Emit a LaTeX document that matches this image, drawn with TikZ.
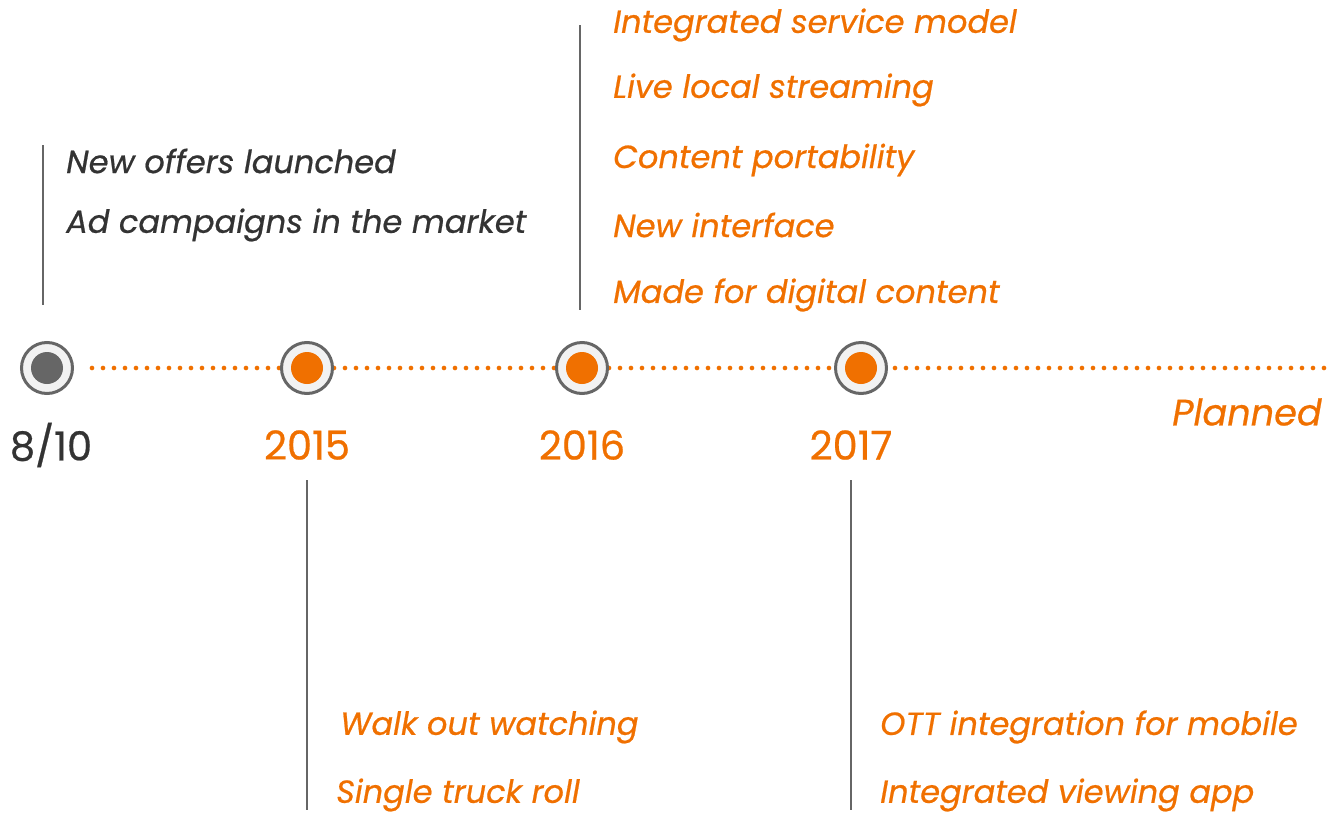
\documentclass[tikz,border=0pt]{standalone}
\usepackage{fontspec}
\setmainfont{Poppins}[FakeBold=0.6]
\usetikzlibrary{positioning}

\definecolor{attorange}{HTML}{F07000}
\definecolor{ringgray}{HTML}{666666}
\definecolor{ringfill}{HTML}{F2F2F2}
\definecolor{textgray}{HTML}{333333}

\begin{document}
\begin{tikzpicture}[
    x=0.75pt, y=-0.75pt,
    ring/.style={circle,fill=ringfill,draw=ringgray,line width=2.25pt,minimum size=51*0.75pt,inner sep=0pt},
    dot done/.style={circle,fill=ringgray,minimum size=32*0.75pt,inner sep=0pt},
    dot plan/.style={circle,fill=attorange,minimum size=32*0.75pt,inner sep=0pt},
    year/.style={font=\fontsize{30}{36}\selectfont,inner sep=0pt},
    item/.style={font=\fontsize{24}{29}\selectfont\itshape,anchor=west,inner sep=0pt},
    stem/.style={ringgray,line width=1.5pt},
    track/.style={attorange,line width=3.5pt,line cap=round,dash pattern=on 0pt off 8.25pt}
]

\useasboundingbox (0,0) rectangle (1339,814);

% Zeitachse
\coordinate (start) at (92,368);
\coordinate (ende) at (1328,368);
\draw[track] (start) -- (ende);

% Meilensteine
\foreach \name/\x/\kind in {m0/47/dot done, m1/307/dot plan, m2/582/dot plan, m3/861/dot plan}{
    \node[ring] (\name) at (\x,368) {};
    \node[\kind] at (\name) {};
}

% Jahre
\node[year,text=textgray] (y0) at (51,445) {8/10};
\node[year,text=attorange] (y1) at (307,445) {2015};
\node[year,text=attorange] (y2) at (582,445) {2016};
\node[year,text=attorange] (y3) at (851,445) {2017};
\node[item,anchor=east,text=attorange,font=\fontsize{27.5}{33}\selectfont\itshape] (plan) at (1322,412) {Planned};

% Striche
\coordinate (s0a) at (43,145);  \coordinate (s0b) at (43,305);
\coordinate (s2a) at (580,25);  \coordinate (s2b) at (580,310);
\coordinate (s1a) at (307,480); \coordinate (s1b) at (307,810);
\coordinate (s3a) at (851,480); \coordinate (s3b) at (851,810);
\draw[stem] (s0a) -- (s0b);
\draw[stem] (s2a) -- (s2b);
\draw[stem] (s1a) -- (s1b);
\draw[stem] (s3a) -- (s3b);

% 8/10
\node[item,text=textgray] (a1) at (66,161) {New offers launched};
\node[item,text=textgray] (a2) at (66,225) {Ad campaigns in the market};

% 2016
\node[item,text=attorange] (c1) at (613,25) {Integrated service model};
\node[item,text=attorange] (c2) at (613,90) {Live local streaming};
\node[item,text=attorange] (c3) at (613,160) {Content portability};
\node[item,text=attorange] (c4) at (613,225) {New interface};
\node[item,text=attorange] (c5) at (613,295) {Made for digital content};

% 2015
\node[item,text=attorange] (b1) at (340,727) {Walk out watching};
\node[item,text=attorange] (b2) at (336,795) {Single truck roll};

% 2017
\node[item,text=attorange] (d1) at (880,727) {OTT integration for mobile};
\node[item,text=attorange] (d2) at (880,795) {Integrated viewing app};

\end{tikzpicture}
\end{document}
